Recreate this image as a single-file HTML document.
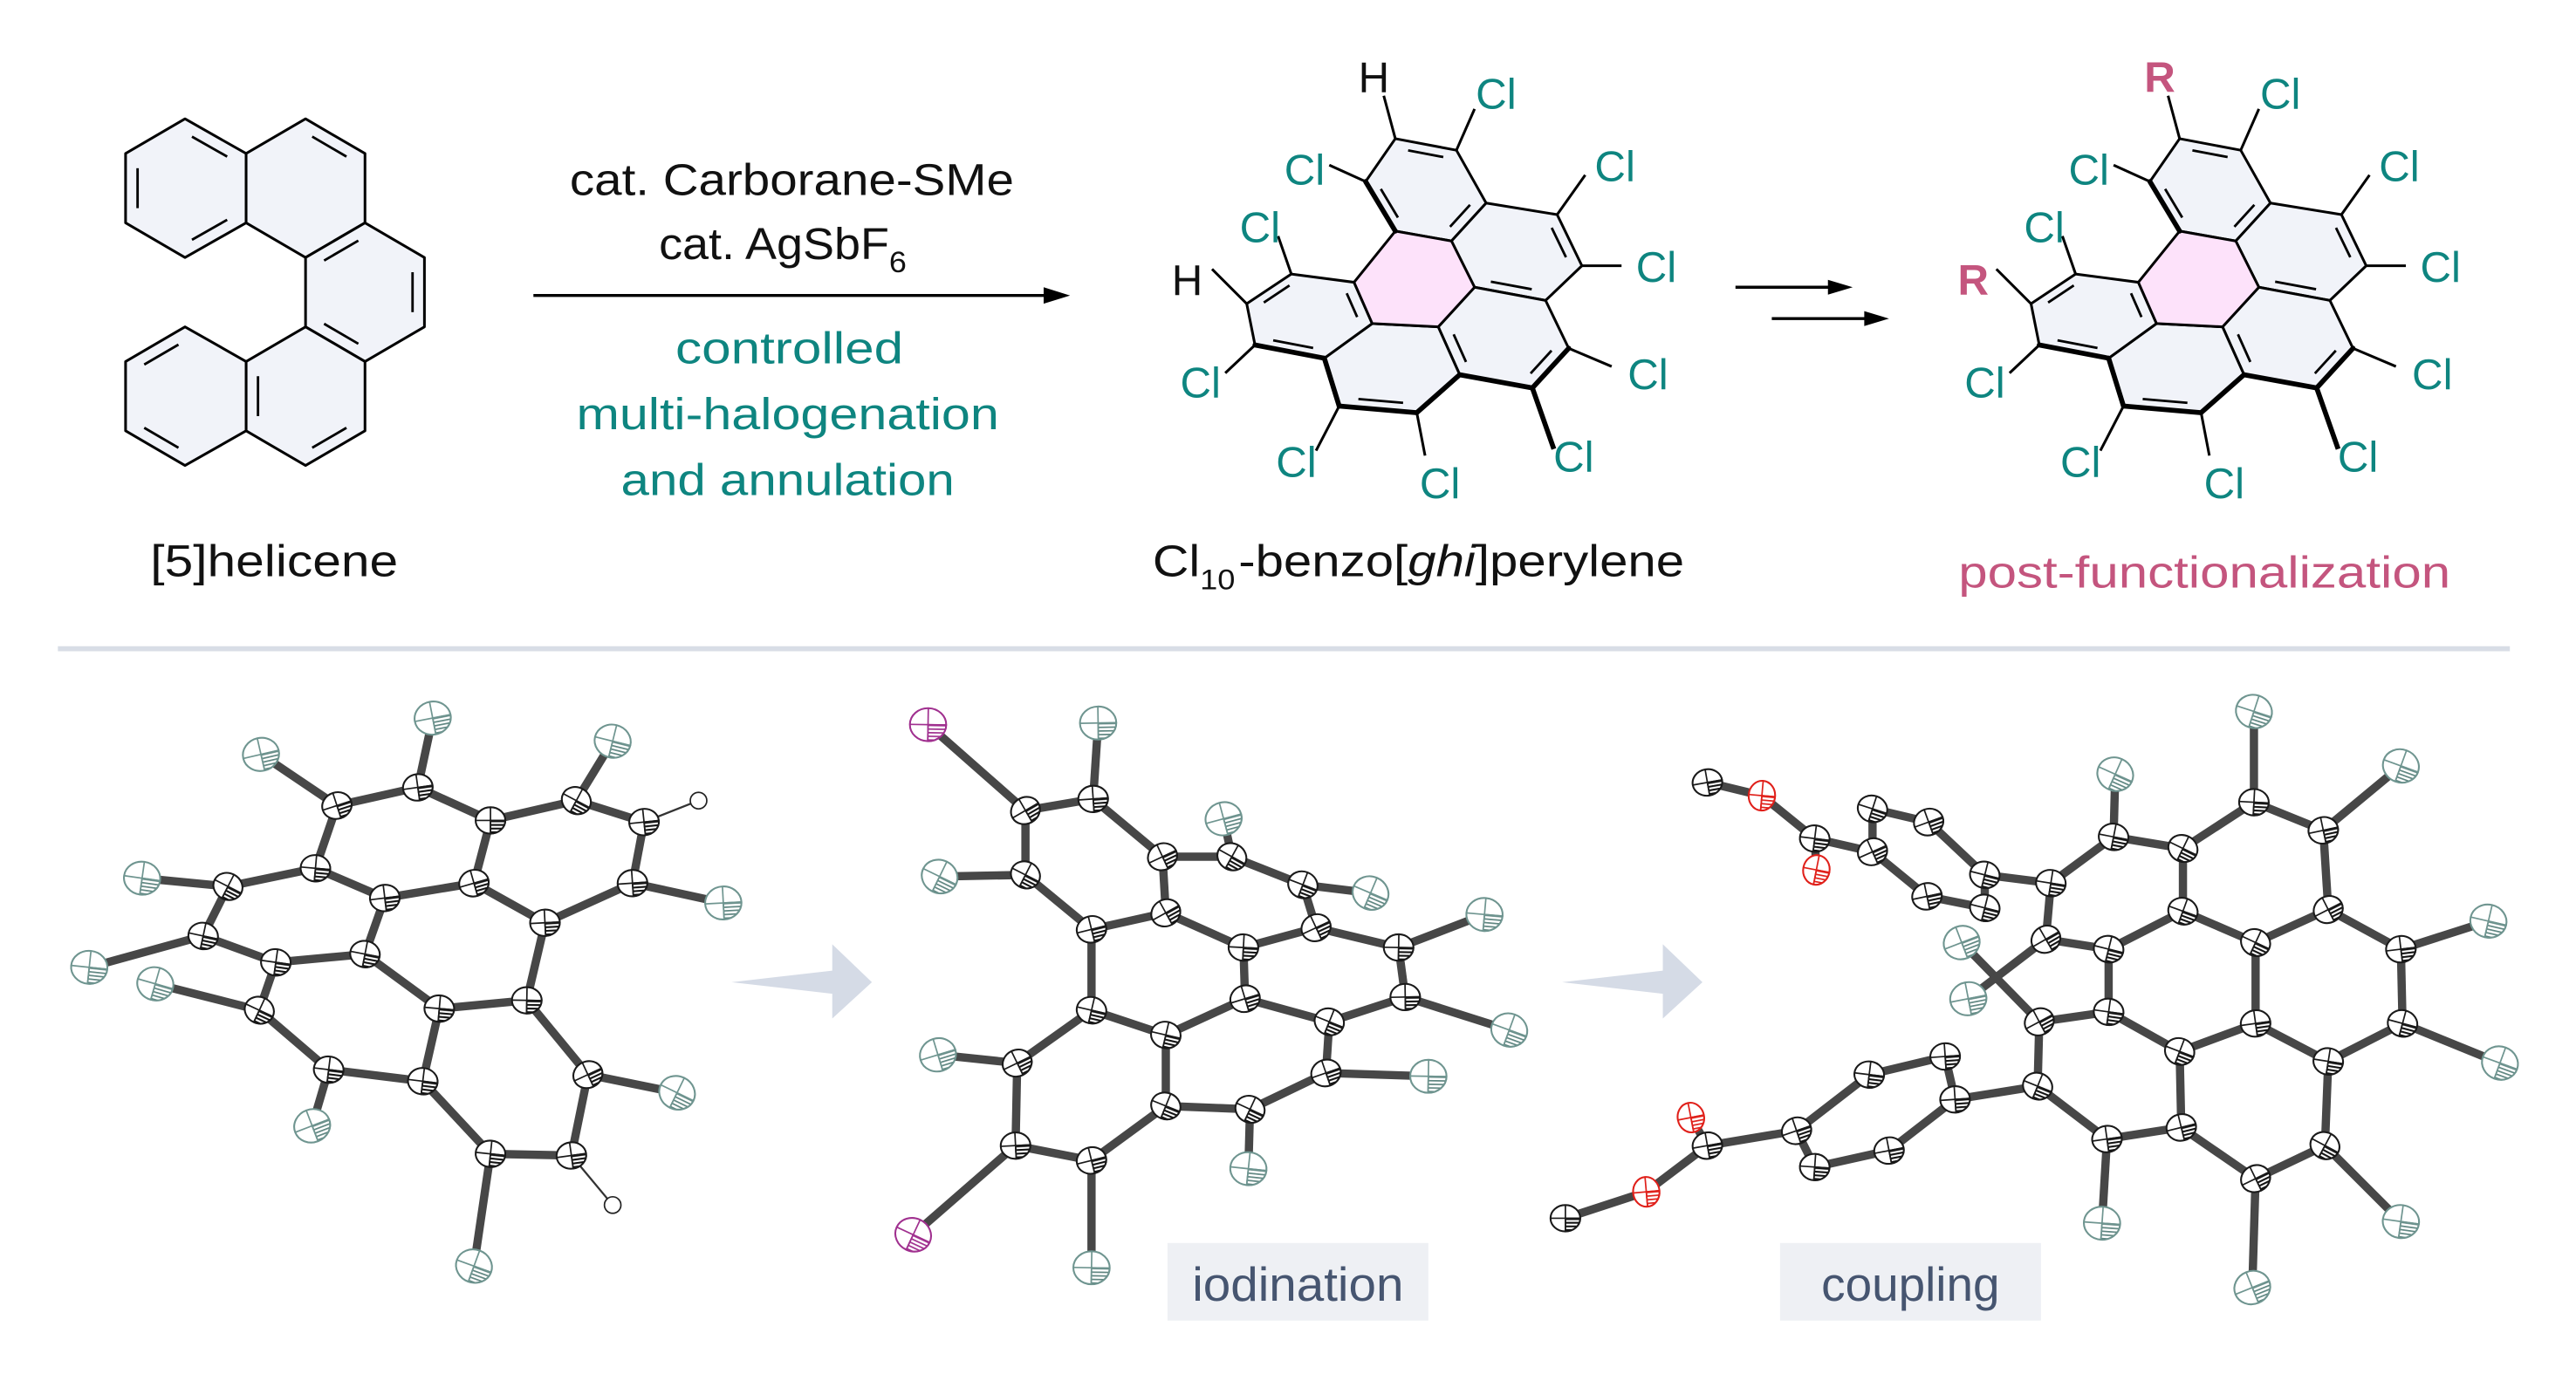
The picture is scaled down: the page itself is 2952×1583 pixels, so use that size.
<!DOCTYPE html>
<html><head><meta charset="utf-8">
<style>
html,body{margin:0;padding:0;background:#fff;}
svg{display:block;}
.t{font-family:"Liberation Sans",sans-serif;}
</style></head>
<body>
<svg id="s" width="2952" height="1583" viewBox="0 0 1560 836.6" xmlns="http://www.w3.org/2000/svg">
<defs>
<pattern id="hC" width="2.2" height="2.2" patternUnits="userSpaceOnUse"><rect width="2.2" height="1.1" fill="#111"/></pattern>
<pattern id="hCl" width="2.2" height="2.2" patternUnits="userSpaceOnUse"><rect width="2.2" height="0.9" fill="#5e8580"/></pattern>
<pattern id="hI" width="2.2" height="2.2" patternUnits="userSpaceOnUse"><rect width="2.2" height="0.9" fill="#a0308f"/></pattern>
<pattern id="hO" width="2.2" height="2.2" patternUnits="userSpaceOnUse"><rect width="2.2" height="0.9" fill="#e0201a"/></pattern>
</defs>
<rect width="1560" height="836.6" fill="#fff"/>
<g id="gtop"></g>
<g id="gbot"></g>
<line x1="323" y1="179" x2="640" y2="179" stroke="#000" stroke-width="1.8"/>
<polygon points="648,179 632,174 632,184" fill="#000"/>
<line x1="1051" y1="174" x2="1115" y2="174" stroke="#000" stroke-width="1.8"/>
<polygon points="1122,174 1107,169.5 1107,178.5" fill="#000"/>
<line x1="1073" y1="193" x2="1137" y2="193" stroke="#000" stroke-width="1.8"/>
<polygon points="1144,193 1129,188.5 1129,197.5" fill="#000"/>
<g class="t" font-size="27" fill="#111">
<text x="345" y="118" textLength="269" lengthAdjust="spacingAndGlyphs">cat. Carborane-SMe</text>
<text x="399" y="157" textLength="150" lengthAdjust="spacingAndGlyphs">cat. AgSbF<tspan font-size="18" dy="8">6</tspan></text>
<text x="91" y="349" textLength="150" lengthAdjust="spacingAndGlyphs">[5]helicene</text>
<text x="698" y="349" textLength="50" lengthAdjust="spacingAndGlyphs">Cl<tspan font-size="17" dy="8">10</tspan></text>
<text x="750" y="349" textLength="270" lengthAdjust="spacingAndGlyphs">-benzo[<tspan font-style="italic">ghi</tspan>]perylene</text>
</g>
<g class="t" font-size="27" fill="#0e8580" text-anchor="middle">
<text x="478" y="220" textLength="138" lengthAdjust="spacingAndGlyphs">controlled</text>
<text x="477" y="260" textLength="256" lengthAdjust="spacingAndGlyphs">multi-halogenation</text>
<text x="477" y="300" textLength="202" lengthAdjust="spacingAndGlyphs">and annulation</text>
</g>
<text class="t" x="1186" y="356" font-size="27" fill="#c4557e" textLength="298" lengthAdjust="spacingAndGlyphs">post-functionalization</text>
<line x1="35" y1="393" x2="1520" y2="393" stroke="#d8dde6" stroke-width="3"/>
<polygon points="443,595 504,588 504,572 528,595 504,617 504,602" fill="#d5dbe6"/>
<polygon points="946,595 1007,588 1007,572 1031,595 1007,617 1007,602" fill="#d5dbe6"/>
<rect x="707" y="753" width="158" height="47" fill="#eef0f4"/>
<text class="t" x="786" y="788" font-size="29" fill="#465570" text-anchor="middle" textLength="128" lengthAdjust="spacingAndGlyphs">iodination</text>
<rect x="1078" y="753" width="158" height="47" fill="#eef0f4"/>
<text class="t" x="1157" y="788" font-size="29" fill="#465570" text-anchor="middle" textLength="108" lengthAdjust="spacingAndGlyphs">coupling</text>
<g id="lbl" class="t" font-size="26" text-anchor="middle" dominant-baseline="central" fill="#0e8580">
<text x="906" y="57">Cl</text><text x="790" y="103">Cl</text><text x="978" y="101">Cl</text><text x="1003" y="162">Cl</text>
<text x="998" y="227">Cl</text><text x="953" y="277">Cl</text><text x="872" y="293">Cl</text><text x="785" y="280">Cl</text>
<text x="727" y="232">Cl</text><text x="763" y="138">Cl</text>
<text x="832" y="47" fill="#111">H</text><text x="719" y="170" fill="#111">H</text>
<text x="1381" y="57">Cl</text><text x="1265" y="103">Cl</text><text x="1453" y="101">Cl</text><text x="1478" y="162">Cl</text>
<text x="1473" y="227">Cl</text><text x="1428" y="277">Cl</text><text x="1347" y="293">Cl</text><text x="1260" y="280">Cl</text>
<text x="1202" y="232">Cl</text><text x="1238" y="138">Cl</text>
<text x="1308" y="47" fill="#c4557e" font-weight="bold">R</text><text x="1195" y="170" fill="#c4557e" font-weight="bold">R</text>
</g>
</svg>
<script>
(function(){
var NS="http://www.w3.org/2000/svg";
function el(p,n,a){var e=document.createElementNS(NS,n);for(var k in a)e.setAttribute(k,a[k]);p.appendChild(e);return e;}
var gTop=document.getElementById('gtop'),gBot=document.getElementById('gbot');
function ctr(P){var x=0,y=0;P.forEach(function(p){x+=p[0];y+=p[1]});return [x/P.length,y/P.length];}
function ring(g,P,fill){el(g,'polygon',{points:P.map(function(p){return p.join(',')}).join(' '),fill:fill,stroke:'#000','stroke-width':1.6,'stroke-linejoin':'round'});}
function inner(g,P,i,j){var c=ctr(P),a=P[i],b=P[j],f=0.2;
 var a2=[a[0]+(c[0]-a[0])*f,a[1]+(c[1]-a[1])*f],b2=[b[0]+(c[0]-b[0])*f,b[1]+(c[1]-b[1])*f];
 var dx=b2[0]-a2[0],dy=b2[1]-a2[1],s=0.14;
 el(g,'line',{x1:a2[0]+dx*s,y1:a2[1]+dy*s,x2:b2[0]-dx*s,y2:b2[1]-dy*s,stroke:'#000','stroke-width':1.5});}
(function(){
 var A=[[112,72],[149,93],[149,135],[112,156],[76,135],[76,93]];
 var B=[[185,72],[221,93],[221,135],[185,156],[149,135],[149,93]];
 var C=[[221,135],[257,156],[257,198],[221,219],[185,198],[185,156]];
 var D=[[185,198],[221,219],[221,261],[185,282],[149,261],[149,219]];
 var E=[[112,198],[149,219],[149,261],[112,282],[76,261],[76,219]];
 var F='#f1f3f9';[A,B,C,D,E].forEach(function(r){ring(gTop,r,F)});
 inner(gTop,A,0,1);inner(gTop,A,4,5);inner(gTop,A,2,3);inner(gTop,B,0,1);
 inner(gTop,C,5,0);inner(gTop,C,1,2);inner(gTop,C,3,4);inner(gTop,D,4,5);inner(gTop,D,2,3);
 inner(gTop,E,5,0);inner(gTop,E,3,4);
})();
function perylene(dx){
 var a={1:[845,84],2:[882,91],3:[900,123],4:[879,146],5:[845,140],6:[827,110],7:[943,130],8:[958,161],9:[936,182],10:[893,174],11:[950,211],12:[928,235],13:[884,227],14:[871,198],15:[858,250],16:[811,246],17:[802,217],18:[831,196],19:[760,209],20:[755,184],21:[782,166],22:[820,171]};
 for(var k in a)a[k]=[a[k][0]+dx,a[k][1]];
 function R(l){return l.map(function(i){return a[i]})}
 var rings=[[1,2,3,4,5,6],[3,7,8,9,10,4],[10,9,11,12,13,14],[14,13,15,16,17,18],[18,17,19,20,21,22]];
 var F='#f1f3f9';
 rings.forEach(function(r){ring(gTop,R(r),F)});
 ring(gTop,R([5,4,10,14,18,22]),'#fde2fa');
 var subs=[[1,[838,58]],[2,[893,66]],[6,[805,100]],[7,[960,106]],[8,[982,161]],[11,[976,222]],[12,[941,272]],[15,[863,276]],[16,[797,273]],[19,[742,226]],[21,[774,143]],[20,[734,163]]];
 subs.forEach(function(s){var p=a[s[0]];el(gTop,'line',{x1:p[0],y1:p[1],x2:s[1][0]+dx,y2:s[1][1],stroke:'#000','stroke-width':(s[0]==12?3:1.6)})});
 [[19,17],[17,16],[16,15],[15,13],[13,12],[12,11],[6,5]].forEach(function(b){var p=a[b[0]],q=a[b[1]];el(gTop,'line',{x1:p[0],y1:p[1],x2:q[0],y2:q[1],stroke:'#000','stroke-width':3,'stroke-linecap':'round'})});
 inner(gTop,R(rings[0]),0,1);inner(gTop,R(rings[0]),5,4);inner(gTop,R(rings[0]),2,3);
 inner(gTop,R(rings[1]),1,2);inner(gTop,R(rings[1]),4,3);
 inner(gTop,R(rings[2]),2,3);inner(gTop,R(rings[2]),5,4);
 inner(gTop,R(rings[3]),2,3);
 inner(gTop,R(rings[4]),3,4);inner(gTop,R(rings[4]),1,2);inner(gTop,R(rings[4]),0,5);
}
perylene(0);perylene(475);

function bondsOf(g,A,B){B.forEach(function(b){var p=A[b[0]],q=A[b[1]];el(g,'line',{x1:p[0],y1:p[1],x2:q[0],y2:q[1],stroke:'#474747','stroke-width':5,'stroke-linecap':'butt'})});}
function atom(g,x,y,t){
 var rx=9,ry=8,st='#1a1a1a',pat='hC';
 if(t=='Cl'){rx=11;ry=10;st='#6f9590';pat='hCl'}
 if(t=='I'){rx=11;ry=10;st='#a0308f';pat='hI'}
 if(t=='O'){rx=8;ry=9;st='#e0201a';pat='hO'}
 if(t=='H'){el(g,'circle',{cx:x,cy:y,r:5,fill:'#fff',stroke:'#222','stroke-width':0.9});return;}
 var rot=(x*7+y*3)%60-30;
 var gg=el(g,'g',{transform:'translate('+x+','+y+') rotate('+rot+')'});
 el(gg,'ellipse',{cx:0,cy:0,rx:rx,ry:ry,fill:'#fff',stroke:st,'stroke-width':1.1});
 el(gg,'path',{d:'M0,0 L'+rx+',0 A'+rx+' '+ry+' 0 0 1 0,'+ry+' Z',fill:'url(#'+pat+')',stroke:st,'stroke-width':0.9});
 el(gg,'line',{x1:-rx,y1:0,x2:rx,y2:0,stroke:st,'stroke-width':0.9});
 el(gg,'line',{x1:0,y1:-ry,x2:0,y2:ry,stroke:st,'stroke-width':0.9});
}
function mol(A,T,B){var g=el(gBot,'g',{});bondsOf(g,A,B);for(var k in A)atom(g,A[k][0],A[k][1],T[k]||'C');}
(function(){
 var A={c1:[204,488],c2:[253,477],c3:[297,497],c4:[349,485],c5:[390,498],c6:[383,535],c7:[330,559],c8:[287,535],c9:[233,544],c10:[191,526],c11:[138,537],c12:[123,567],c13:[167,583],c14:[221,578],c15:[266,611],c16:[319,606],c17:[356,651],c18:[346,700],c19:[297,699],c20:[256,655],c21:[199,648],c22:[157,612],
 x1:[158,457],x2:[262,435],x4:[371,449],x6:[438,547],x11:[86,532],x12:[54,586],x22:[94,596],x21:[189,682],x19:[287,767],x17:[410,662],h5:[423,485],h18:[371,730]};
 var T={x1:'Cl',x2:'Cl',x4:'Cl',x6:'Cl',x11:'Cl',x12:'Cl',x22:'Cl',x21:'Cl',x19:'Cl',x17:'Cl',h5:'H',h18:'H'};
 var B=[['c1','c2'],['c2','c3'],['c3','c4'],['c4','c5'],['c5','c6'],['c6','c7'],['c7','c8'],['c8','c3'],['c8','c9'],['c9','c10'],['c10','c1'],['c10','c11'],['c11','c12'],['c12','c13'],['c13','c14'],['c14','c9'],['c14','c15'],['c15','c16'],['c16','c7'],['c16','c17'],['c17','c18'],['c18','c19'],['c19','c20'],['c20','c15'],['c20','c21'],['c21','c22'],['c22','c13'],
 ['c1','x1'],['c2','x2'],['c4','x4'],['c6','x6'],['c11','x11'],['c12','x12'],['c22','x22'],['c21','x21'],['c19','x19'],['c17','x17']];
 var g=el(gBot,'g',{});bondsOf(g,A,B);
 el(g,'line',{x1:390,y1:498,x2:423,y2:485,stroke:'#333','stroke-width':1.2});
 el(g,'line',{x1:346,y1:700,x2:371,y2:730,stroke:'#333','stroke-width':1.2});
 for(var k in A)atom(g,A[k][0],A[k][1],T[k]||'C');
})();
(function(){
 var A={d1:[621,491],d2:[662,484],d3:[704,519],d4:[746,519],d5:[789,536],d6:[797,562],d7:[753,574],d8:[706,553],d9:[661,563],d10:[621,530],d11:[661,612],d12:[706,627],d13:[754,605],d14:[805,619],d15:[847,574],d16:[851,604],d17:[803,650],d18:[757,672],d19:[706,670],d20:[661,703],d21:[615,694],d22:[616,644],
 i1:[562,439],x2:[665,438],x4:[741,496],x5:[830,541],x15:[899,554],x16:[914,624],x17:[865,652],x18:[756,708],x20:[661,768],i21:[553,748],x22:[568,639],x10:[569,531]};
 var T={i1:'I',i21:'I'};for(var k in A)if(k[0]=='x')T[k]='Cl';
 var B=[['d1','d2'],['d2','d3'],['d3','d4'],['d4','d5'],['d5','d6'],['d6','d7'],['d7','d8'],['d8','d3'],['d8','d9'],['d9','d10'],['d10','d1'],['d9','d11'],['d11','d12'],['d12','d13'],['d13','d7'],['d6','d15'],['d15','d16'],['d16','d14'],['d14','d13'],['d14','d17'],['d17','d18'],['d18','d19'],['d19','d12'],['d19','d20'],['d20','d21'],['d21','d22'],['d22','d11'],
 ['d1','i1'],['d2','x2'],['d4','x4'],['d5','x5'],['d15','x15'],['d16','x16'],['d17','x17'],['d18','x18'],['d20','x20'],['d21','i21'],['d22','x22'],['d10','x10']];
 mol(A,T,B);
})();
(function(){
 var A={e1:[1280,507],e2:[1322,514],e3:[1365,486],e4:[1407,503],e5:[1410,551],e6:[1366,571],e7:[1322,552],e8:[1242,535],e9:[1239,569],e10:[1277,575],e11:[1277,613],e12:[1235,619],e13:[1320,637],e14:[1366,620],e15:[1454,575],e16:[1455,620],e17:[1410,643],e18:[1408,694],e19:[1366,714],e20:[1321,683],e21:[1276,690],e22:[1234,658],
 x1:[1281,469],x3:[1365,431],x4:[1454,464],x15:[1507,558],x16:[1514,644],x18:[1454,740],x19:[1364,780],x21:[1273,741],x12:[1188,571],x9:[1192,605],
 p1:[1202,530],p2:[1168,498],p3:[1134,490],p4:[1134,516],p5:[1167,543],p6:[1202,550],pc:[1099,508],po1:[1100,527],po2:[1067,482],pm:[1034,474],
 q1:[1184,666],q2:[1178,640],q3:[1132,651],q4:[1088,685],q5:[1099,707],q6:[1144,697],qc:[1034,694],qo1:[1024,677],qo2:[997,722],qm:[948,738]};
 var T={po1:'O',po2:'O',qo1:'O',qo2:'O'};for(var k in A)if(k[0]=='x')T[k]='Cl';
 var B=[['e8','e1'],['e1','e2'],['e2','e7'],['e7','e10'],['e10','e9'],['e9','e8'],['e2','e3'],['e3','e4'],['e4','e5'],['e5','e6'],['e6','e7'],['e5','e15'],['e15','e16'],['e16','e17'],['e17','e14'],['e14','e6'],['e14','e13'],['e13','e11'],['e11','e10'],['e11','e12'],['e13','e20'],['e20','e21'],['e21','e22'],['e22','e12'],['e20','e19'],['e19','e18'],['e18','e17'],
 ['e1','x1'],['e3','x3'],['e4','x4'],['e15','x15'],['e16','x16'],['e18','x18'],['e19','x19'],['e21','x21'],['e12','x12'],['e9','x9'],
 ['e8','p1'],['p1','p2'],['p2','p3'],['p3','p4'],['p4','p5'],['p5','p6'],['p6','p1'],['p4','pc'],['pc','po1'],['pc','po2'],['po2','pm'],
 ['e22','q1'],['q1','q2'],['q2','q3'],['q3','q4'],['q4','q5'],['q5','q6'],['q6','q1'],['q4','qc'],['qc','qo1'],['qc','qo2'],['qo2','qm']];
 mol(A,T,B);
})();
})();
</script>
</body></html>
